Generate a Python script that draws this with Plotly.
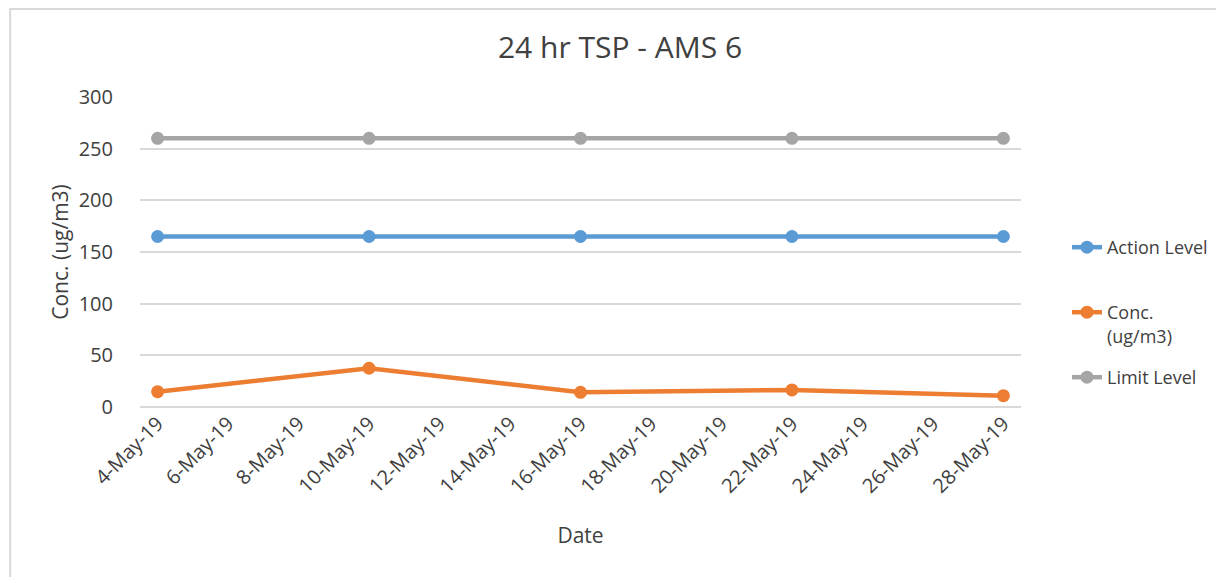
import plotly.graph_objects as go

dates = ["2019-05-04", "2019-05-10", "2019-05-16", "2019-05-22", "2019-05-28"]
action_level = [165, 165, 165, 165, 165]
conc = [14.8, 37.5, 14.2, 16.5, 11.0]
limit_level = [260, 260, 260, 260, 260]

FONT = "Open Sans"
TXT = "#404040"

W, H = 1216, 569
L, R, T, B = 132, 202, 89, 170
PW, PH = W - L - R, H - T - B


def leg_y(top_px):
    return (PH + T - top_px) / PH


fig = go.Figure()
fig.add_trace(go.Scatter(x=dates, y=action_level, name="Action Level", mode="lines+markers",
                         line=dict(color="#5B9BD5", width=4.5), marker=dict(size=13, color="#5B9BD5"),
                         legend="legend"))
fig.add_trace(go.Scatter(x=dates, y=conc, name="Conc.<br>(ug/m3)", mode="lines+markers",
                         line=dict(color="#ED7D31", width=4.5), marker=dict(size=13, color="#ED7D31"),
                         legend="legend2"))
fig.add_trace(go.Scatter(x=dates, y=limit_level, name="Limit Level", mode="lines+markers",
                         line=dict(color="#A5A5A5", width=4.5), marker=dict(size=13, color="#A5A5A5"),
                         legend="legend3"))

LX = 1.051
leg_common = dict(x=LX, xanchor="left", yanchor="top", valign="top",
                  font=dict(size=18, color=TXT), bgcolor="rgba(0,0,0,0)")

fig.update_layout(
    width=W, height=H,
    margin=dict(l=L, r=R, t=T, b=B),
    paper_bgcolor="white", plot_bgcolor="white",
    font=dict(family=FONT, color=TXT, size=18),
    title=dict(text="24 hr TSP - AMS 6", x=(620 - 8) / W, xanchor="center", y=1 - 39 / H, yanchor="middle",
               xref="container", font=dict(size=30, color=TXT)),
    legend=dict(y=leg_y(221), **leg_common),
    legend2=dict(y=leg_y(286), **leg_common),
    legend3=dict(y=leg_y(351), **leg_common),
    showlegend=True,
)
fig.update_xaxes(type="date", range=["2019-05-03 12:00", "2019-05-28 12:00"],
                 tick0="2019-05-04", dtick=2 * 86400000, tickformat="%-d-%b-%y",
                 tickangle=-45, showgrid=False, showline=False, zeroline=False,
                 tickfont=dict(size=20, color=TXT),
                 title=dict(text="Date", font=dict(size=21, color=TXT), standoff=30))
fig.update_yaxes(range=[0, 300], dtick=50, showgrid=True, gridcolor="#D9D9D9", gridwidth=1.5,
                 zeroline=True, zerolinecolor="#D9D9D9", zerolinewidth=1.5, showline=False,
                 tickfont=dict(size=20, color=TXT), ticklabelstandoff=26,
                 title=dict(text="Conc. (ug/m3)", font=dict(size=21, color=TXT), standoff=4))

# chart border (light gray)
fig.add_shape(type="rect", xref="paper", yref="paper",
              x0=(2 - L) / PW, x1=(W + 20 - L) / PW,
              y0=(PH + T - (H + 20)) / PH, y1=(PH + T - 1) / PH,
              line=dict(color="#D9D9D9", width=2), fillcolor="rgba(0,0,0,0)", layer="below")

fig.write_html("out.html")
